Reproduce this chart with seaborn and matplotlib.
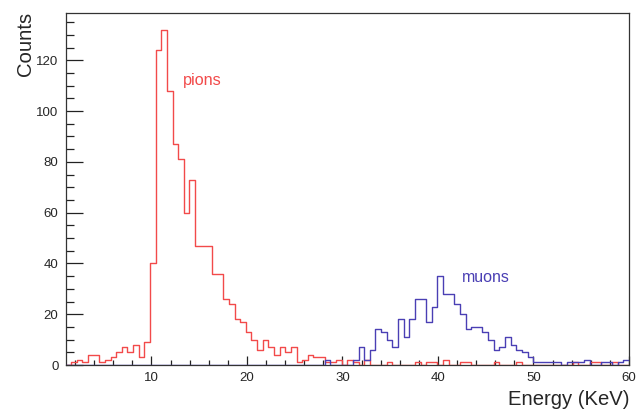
import numpy as np
import pandas as pd
import matplotlib
matplotlib.use("Agg")
import matplotlib.pyplot as plt
import seaborn as sns
from matplotlib.ticker import MultipleLocator

# ---- data ----
x_min, x_max, n_bins = 1.0, 60.0, 100
pion_counts = [
    0, 1, 2, 1, 4, 4, 1, 2, 3, 5,
    7, 5, 8, 3, 9, 40, 124, 132, 108, 87,
    81, 60, 73, 47, 47, 47, 36, 36, 26, 24,
    18, 17, 13, 10, 6, 10, 7, 4, 7, 5,
    7, 1, 2, 4, 3, 3, 1, 1, 2, 0,
    2, 1, 0, 2, 0, 0, 0, 1, 0, 0,
    0, 0, 1, 0, 1, 1, 0, 2, 0, 0,
    1, 1, 0, 0, 0, 0, 1, 0, 0, 0,
    1, 0, 0, 0, 0, 0, 0, 0, 0, 0,
    1, 0, 0, 1, 1, 0, 0, 1, 0, 0,
]
muon_counts = [
    0, 0, 0, 0, 0, 0, 0, 0, 0, 0,
    0, 0, 0, 0, 0, 0, 0, 0, 0, 0,
    0, 0, 0, 0, 0, 0, 0, 0, 0, 0,
    0, 0, 0, 0, 0, 0, 0, 0, 0, 0,
    0, 0, 0, 0, 0, 0, 2, 0, 0, 0,
    0, 2, 7, 2, 6, 14, 13, 10, 7, 18,
    11, 18, 26, 26, 17, 23, 35, 28, 28, 24,
    20, 14, 15, 15, 13, 10, 6, 7, 11, 8,
    6, 5, 3, 1, 1, 1, 1, 1, 0, 1,
    1, 1, 2, 0, 0, 1, 1, 0, 1, 2,
]
x_ticks = [10, 20, 30, 40, 50, 60]
y_ticks = [0, 20, 40, 60, 80, 100, 120]
labels = {"pions": "pions", "muons": "muons"}

edges = [float(e) for e in np.linspace(x_min, x_max, n_bins + 1)]
centers = [0.5 * (edges[i] + edges[i + 1]) for i in range(n_bins)]
pions_df = pd.DataFrame({"energy": centers, "count": pion_counts})
muons_df = pd.DataFrame({"energy": centers, "count": muon_counts})

sns.set_theme(style="ticks")
plt.rcParams.update({
    "font.family": ["Liberation Sans", "DejaVu Sans"],
    "xtick.labelsize": 9.5, "ytick.labelsize": 9.5,
})

W, H = 642, 411
fig = plt.figure(figsize=(W / 100, H / 100), dpi=100)
ax = fig.add_axes([65.5 / W, 1 - 365 / H, (629 - 65.5) / W, (365 - 13) / H])

red = "#f24a4a"
blue = "#4a3fb4"

sns.histplot(data=pions_df, x="energy", weights="count",
             bins=edges, element="step", fill=False, color=red,
             linewidth=1.0, ax=ax)
n_red = len(ax.lines) + len(ax.collections) + len(ax.patches)
sns.histplot(data=muons_df, x="energy", weights="count",
             bins=edges, element="step", fill=False, color=blue,
             linewidth=1.0, ax=ax)
arts = list(ax.lines) + list(ax.collections) + list(ax.patches)
# red below the frame, blue above it (ROOT drawing order)
for i, a in enumerate(arts):
    a.set_zorder(1 if i < n_red else 2.2)

ax.set_xlim(x_min, x_max)
ax.set_ylim(0, 138.6)
ax.set_xticks(x_ticks)
ax.set_yticks(y_ticks)
ax.xaxis.set_minor_locator(MultipleLocator(2))
ax.yaxis.set_minor_locator(MultipleLocator(5))
ax.tick_params(axis="x", which="both", bottom=True, top=False,
               direction="in", color="#222222", width=0.9, pad=5)
ax.tick_params(axis="x", which="major", length=6.5)
ax.tick_params(axis="x", which="minor", length=3.5)
ax.tick_params(axis="y", which="both", left=True, right=False,
               direction="in", color="#222222", width=0.9, pad=5)
ax.tick_params(axis="y", which="major", length=12)
ax.tick_params(axis="y", which="minor", length=6)
ax.set_xlabel("")
ax.set_ylabel("")
for s in ax.spines.values():
    s.set_visible(True)
    s.set_color("#333333")
    s.set_linewidth(0.9)
    s.set_zorder(2)

fig.text(183 / W, 1 - 81 / H, labels["pions"], color=red, fontsize=11.7,
         ha="left", va="center")
fig.text(462 / W, 1 - 278 / H, labels["muons"], color=blue, fontsize=11.5,
         ha="left", va="center")
fig.text(25 / W, 1 - 12 / H, "Counts", rotation=90, fontsize=14.6,
         ha="center", va="top")
fig.text(630 / W, 1 - 399 / H, "Energy (KeV)", fontsize=14.6,
         ha="right", va="center")

fig.savefig("out.png", dpi=100)
